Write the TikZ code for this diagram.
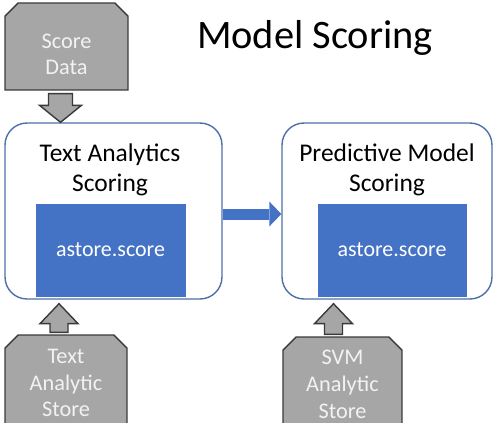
\documentclass[tikz,border=0pt]{standalone}
\usepackage{fontspec}
\setmainfont{Carlito}
\usetikzlibrary{positioning, arrows.meta, calc, shapes.misc}

\definecolor{scoreblue}{HTML}{4472C4}
\definecolor{stageline}{HTML}{4F6FA8}
\definecolor{storegray}{HTML}{A6A6A6}
\definecolor{storeline}{HTML}{3A3A3A}
\definecolor{storetext}{HTML}{F2F2F2}

\begin{document}
\begin{tikzpicture}[x=0.02cm, y=-0.02cm,
  store/.style   = {chamfered rectangle, chamfered rectangle corners={north west,north east},
                    chamfered rectangle xsep=0.13cm, chamfered rectangle ysep=0.13cm,
                    draw=storeline, fill=storegray, line width=0.8pt, text=storetext,
                    align=center, inner sep=0pt, font=\fontsize{12.7}{15.3}\selectfont},
  stage/.style   = {draw=stageline, line width=0.8pt, rounded corners=0.44cm, minimum height=3.52cm},
  stitle/.style  = {align=center, font=\fontsize{14.5}{17}\selectfont},
  scorer/.style  = {fill=scoreblue, draw=scoreblue, text=white, minimum height=1.84cm,
                    font=\fontsize{12.5}{15}\selectfont},
  garrow/.style  = {draw=storeline, fill=storegray, line width=0.8pt, line join=miter},
  flow/.style    = {draw=scoreblue, line width=0.22cm,
                    -{Triangle[length=0.24cm, width=0.5cm, line width=0pt]}},
]
\path[use as bounding box, clip] (0,0) rectangle (498,423);

% --- nodes ---------------------------------------------------------------
\node[font=\fontsize{23}{27}\selectfont] (title) at (315,38) {Model Scoring};

\node[store, minimum width=2.46cm, minimum height=1.74cm, text height=32.4pt] (data) at (66.5,46.5) {Score\\Data};

\node[stage, minimum width=4.34cm] (tabox) at (113.5,211) {};
\node[stage, minimum width=4.2cm]  (pmbox) at (387,211) {};

\node[stitle] (tatitle) at (110,170) {Text Analytics\\Scoring};
\node[stitle] (pmtitle) at (387,170) {Predictive Model\\Scoring};

\node[scorer, minimum width=2.98cm] (tascore) at (110.5,250) {astore.score};
\node[scorer, minimum width=2.96cm] (pmscore) at (392,250) {astore.score};

\node[store, minimum width=2.44cm, minimum height=1.92cm] (tastore)  at (66,383)    {Text\\Analytic\\Store};
\node[store, minimum width=2.38cm, minimum height=1.88cm] (svmstore) at (342.5,384) {SVM\\Analytic\\Store};

% --- input arrows ----------------------------------------------------------
\coordinate (dtail) at ($(data.south)+(-6,3)$);
\coordinate (dtip)  at (dtail |- tabox.north);
\draw[garrow] ($(dtail)+(-12,0)$) -- ($(dtail)+(12,0)$) -- ($(dtip)+(12,-17)$)
     -- ($(dtip)+(21,-17)$) -- (dtip) -- ($(dtip)+(-21,-17)$) -- ($(dtip)+(-12,-17)$) -- cycle;

\coordinate (ltail) at ($(tastore.north)+(-7,-2)$);
\coordinate (ltip)  at ($(ltail |- tabox.south)+(0,4)$);
\draw[garrow] ($(ltail)+(-9,0)$) -- ($(ltail)+(9,0)$) -- ($(ltip)+(9,20)$)
     -- ($(ltip)+(19,20)$) -- (ltip) -- ($(ltip)+(-19,20)$) -- ($(ltip)+(-9,20)$) -- cycle;

\coordinate (rtail) at ($(svmstore.north)+(-9,-2)$);
\coordinate (rtip)  at ($(rtail |- pmbox.south)+(0,4)$);
\draw[garrow] ($(rtail)+(-9,0)$) -- ($(rtail)+(9,0)$) -- ($(rtip)+(9,20)$)
     -- ($(rtip)+(19,20)$) -- (rtip) -- ($(rtip)+(-19,20)$) -- ($(rtip)+(-9,20)$) -- cycle;

% --- scoring flow ----------------------------------------------------------
\draw[flow] ($(tabox.east)+(0,3)$) -- ($(pmbox.west)+(0,3)$);

\end{tikzpicture}
\end{document}
